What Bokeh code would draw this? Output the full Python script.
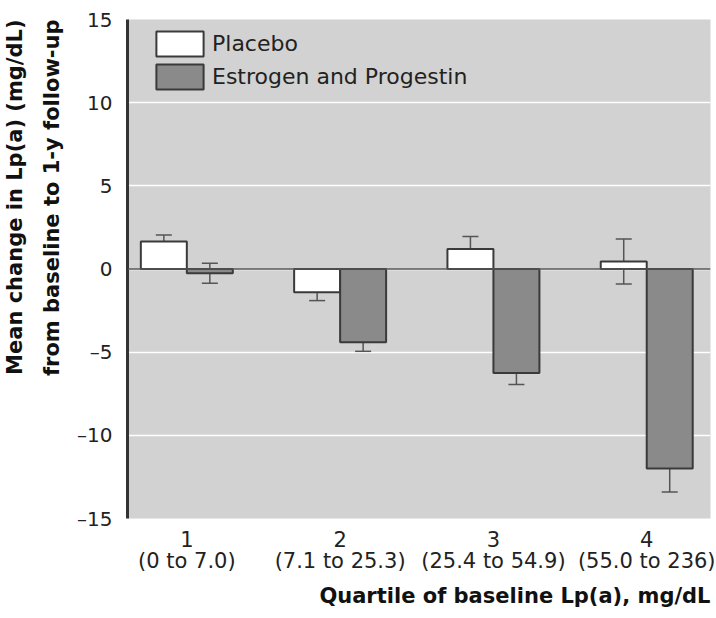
from bokeh.plotting import figure
from bokeh.models import ColumnDataSource, Whisker, Span, Legend, LegendItem, Title, FixedTicker
from bokeh.embed import file_html
from bokeh.resources import INLINE

# ---- data ----
quartiles = [1, 2, 3, 4]
quartile_labels = ["1\n(0 to 7.0)", "2\n(7.1 to 25.3)", "3\n(25.4 to 54.9)", "4\n(55.0 to 236)"]
placebo_mean = [1.65, -1.4, 1.2, 0.45]
placebo_se = [0.4, 0.5, 0.75, 1.35]
ep_mean = [-0.25, -4.4, -6.25, -12.0]
ep_se = [0.6, 0.55, 0.7, 1.4]
y_ticks = [-15, -10, -5, 0, 5, 10, 15]
y_tick_labels = ["\u201315", "\u201310", "\u20135", "0", "5", "10", "15"]
series_names = ["Placebo", "Estrogen and Progestin"]
y_label_lines = ["Mean change in Lp(a) (mg/dL)", "from baseline to 1-y follow-up"]
x_label = "Quartile of baseline Lp(a), mg/dL"

BAR_W = 0.30
FONT = "DejaVu Sans"

src_p = ColumnDataSource(dict(
    x=[q - BAR_W / 2 for q in quartiles], top=placebo_mean,
    lower=[m - s for m, s in zip(placebo_mean, placebo_se)],
    upper=[m + s for m, s in zip(placebo_mean, placebo_se)]))
src_e = ColumnDataSource(dict(
    x=[q + BAR_W / 2 for q in quartiles], top=ep_mean,
    lower=[m - s for m, s in zip(ep_mean, ep_se)],
    upper=[m + s for m, s in zip(ep_mean, ep_se)]))

p = figure(width=716, height=618, output_backend="svg", toolbar_location=None,
           x_range=(0.613, 4.416), y_range=(-15, 15),
           min_border_left=127, min_border_top=19, min_border_right=6, min_border_bottom=100)
p.background_fill_color = "#d2d2d2"
p.outline_line_color = None
p.border_fill_color = "white"

# grid
p.xgrid.grid_line_color = None
p.ygrid.grid_line_color = "white"
p.ygrid.grid_line_width = 1.5
p.ygrid.ticker = FixedTicker(ticks=y_ticks)

# whiskers (under the bars)
for src in (src_p, src_e):
    w = Whisker(base="x", lower="lower", upper="upper", source=src,
                line_color="#555555", line_width=1.5, level="underlay")
    for h in (w.upper_head, w.lower_head):
        h.size = 16
        h.line_color = "#555555"
        h.line_width = 1.5
    p.add_layout(w)

r_p = p.vbar(x="x", top="top", bottom=0, width=BAR_W, source=src_p,
             fill_color="white", line_color="#3a3a3a", line_width=2)
r_e = p.vbar(x="x", top="top", bottom=0, width=BAR_W, source=src_e,
             fill_color="#8a8a8a", line_color="#3a3a3a", line_width=2)

p.add_layout(Span(location=0, dimension="width", line_color="#555555", line_width=1.5))

# axes
p.yaxis.ticker = FixedTicker(ticks=y_ticks)
p.yaxis.major_label_overrides = {t: l for t, l in zip(y_ticks, y_tick_labels)}
p.yaxis.major_tick_line_color = None
p.yaxis.minor_tick_line_color = None
p.yaxis.axis_line_color = "#333333"
p.yaxis.axis_line_width = 3
p.yaxis.major_label_text_font = FONT
p.yaxis.major_label_text_font_size = "20px"
p.yaxis.major_label_text_color = "#222222"
p.yaxis.major_label_standoff = 9

p.xaxis.ticker = FixedTicker(ticks=quartiles)
p.xaxis.major_label_overrides = {q: l for q, l in zip(quartiles, quartile_labels)}
p.xaxis.major_tick_line_color = None
p.xaxis.minor_tick_line_color = None
p.xaxis.axis_line_color = None
p.xaxis.major_label_text_font = FONT
p.xaxis.major_label_text_font_size = "21px"
p.xaxis.major_label_text_line_height = 0.9
p.xaxis.major_label_text_color = "#222222"
p.xaxis.major_label_standoff = 3

# y label: two lines, top-aligned (inner line added first)
p.add_layout(Title(text=y_label_lines[1], align="right",
                   text_font=FONT, text_font_size="21px", text_font_style="bold",
                   text_line_height=0.8, text_color="#111111", standoff=22), "left")
p.add_layout(Title(text=y_label_lines[0], align="right",
                   text_font=FONT, text_font_size="21px", text_font_style="bold",
                   text_line_height=0.8, text_color="#111111", standoff=0), "left")

p.add_layout(Title(text=x_label, align="right",
                   text_font=FONT, text_font_size="21px", text_font_style="bold",
                   text_color="#111111", standoff=10), "below")

legend = Legend(items=[LegendItem(label=series_names[0], renderers=[r_p]),
                       LegendItem(label=series_names[1], renderers=[r_e])],
                location=(23, 426), glyph_width=59, glyph_height=31,
                label_standoff=3, spacing=2, padding=0, margin=0,
                label_text_font=FONT, label_text_font_size="22px",
                label_text_color="#222222",
                background_fill_alpha=0, border_line_color=None)
p.add_layout(legend)

open("out.html", "w").write(file_html(p, INLINE))
